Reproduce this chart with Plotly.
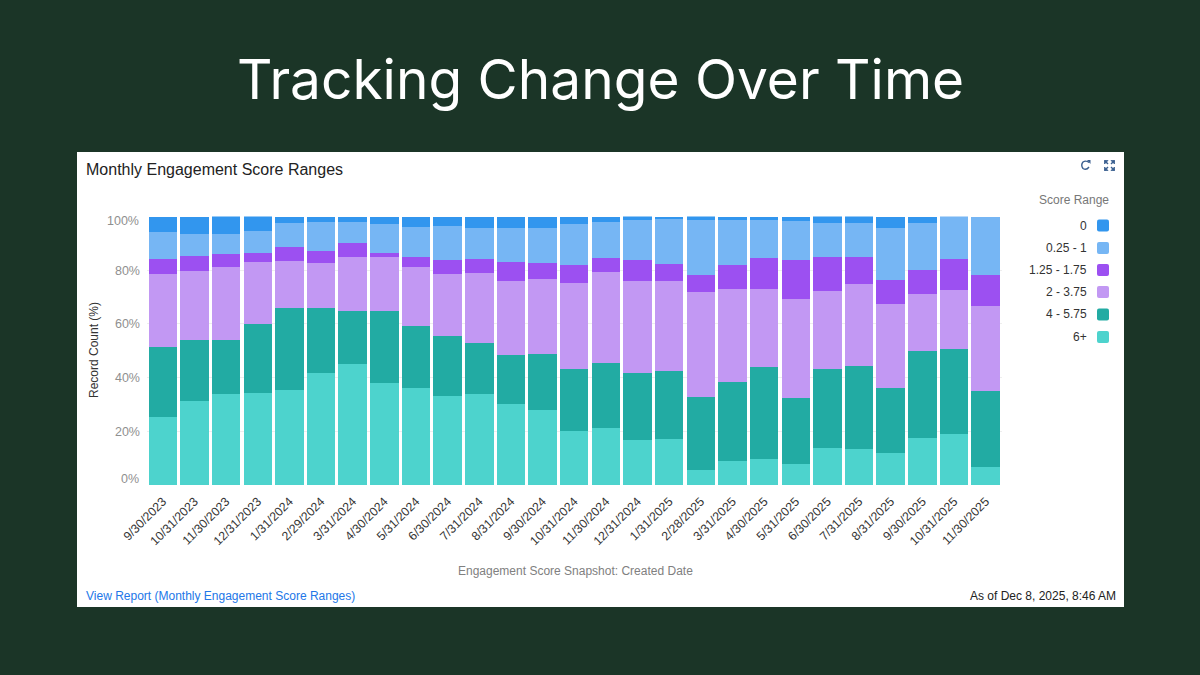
import plotly.graph_objects as go

W, H = 1200, 675

dates = ["9/30/2023", "10/31/2023", "11/30/2023", "12/31/2023", "1/31/2024", "2/29/2024", "3/31/2024",
         "4/30/2024", "5/31/2024", "6/30/2024", "7/31/2024", "8/31/2024", "9/30/2024", "10/31/2024",
         "11/30/2024", "12/31/2024", "1/31/2025", "2/28/2025", "3/31/2025", "4/30/2025", "5/31/2025",
         "6/30/2025", "7/31/2025", "8/31/2025", "9/30/2025", "10/31/2025", "11/30/2025"]

score_6_plus = [25.5, 31.3, 33.8, 34.4, 35.5, 41.7, 45.0, 38.0, 36.1, 33.3, 34.0, 30.2, 28.0, 20.1,
                21.2, 16.9, 17.1, 5.6, 8.9, 9.8, 7.7, 13.7, 13.4, 11.8, 17.5, 19.1, 6.6]
score_4_575 = [26.0, 22.6, 20.1, 25.5, 30.3, 24.1, 19.9, 26.8, 23.1, 22.1, 18.8, 18.3, 20.7, 23.1,
               24.3, 25.0, 25.5, 27.0, 29.4, 34.3, 24.7, 29.6, 30.9, 24.2, 32.4, 31.7, 28.4]
score_2_375 = [27.1, 25.8, 27.2, 23.1, 17.6, 16.9, 20.2, 20.2, 22.1, 23.2, 26.3, 27.3, 28.2, 32.2,
               33.9, 33.9, 33.4, 39.1, 34.7, 28.9, 37.0, 28.8, 30.6, 31.3, 21.1, 21.9, 31.7]
score_125_175 = [5.7, 5.6, 5.0, 3.5, 5.1, 4.5, 5.1, 1.5, 3.6, 5.1, 5.0, 7.2, 5.8, 6.7,
                 5.1, 8.1, 6.3, 6.5, 8.9, 11.4, 14.3, 12.8, 10.1, 9.2, 8.9, 11.6, 11.4]
score_025_1 = [9.9, 8.2, 7.5, 8.0, 9.2, 10.6, 7.8, 10.7, 11.3, 12.7, 11.7, 12.8, 12.9, 15.2,
               13.4, 14.8, 17.1, 20.4, 17.3, 14.2, 14.8, 12.8, 12.7, 19.4, 17.5, 15.8, 21.9]
score_0 = [5.8, 6.5, 6.5, 5.6, 2.2, 2.2, 2.0, 2.7, 3.7, 3.6, 4.2, 4.2, 4.3, 2.7,
           2.0, 1.4, 0.5, 1.5, 0.7, 1.4, 1.5, 2.4, 2.4, 4.1, 2.5, 0.0, 0.0]

range_names = ["0", "0.25 - 1", "1.25 - 1.75", "2 - 3.75", "4 - 5.75", "6+"]
range_values = [score_0, score_025_1, score_125_175, score_2_375, score_4_575, score_6_plus]
range_colors = ["#3296EE", "#76B6F4", "#9C50F1", "#C298F3", "#22ABA3", "#4DD3CD"]

BG = "#1B3527"
SANS = "Liberation Sans, Arial, sans-serif"


def fx(px):
    return px / W


def fy(py):
    return 1 - py / H


fig = go.Figure()

# Stacked from the top score range downward, so "6+" sits on the axis.
for name, values, color in reversed(list(zip(range_names, range_values, range_colors))):
    fig.add_bar(x=dates, y=values, name=name, marker=dict(color=color, line=dict(width=0)), showlegend=False)

shapes = [dict(type="rect", xref="paper", yref="paper", layer="below",
               x0=fx(77), x1=fx(1124), y0=fy(607), y1=fy(152), fillcolor="white", line=dict(width=0))]
annotations = []

# Annotations carry about 2px of built-in padding; the shift cancels it at the anchored edge.
PAD_SHIFT = {"left": -2, "right": 2, "center": 0}


def text(px, py, s, size, color, anchor="left", **kw):
    family = kw.pop("family", SANS)
    annotations.append(dict(xref="paper", yref="paper", x=fx(px), y=fy(py), text=s, showarrow=False,
                            xanchor=anchor, yanchor="middle", xshift=PAD_SHIFT[anchor],
                            font=dict(size=size, color=color, family=family), **kw))


text(600, 79, "Tracking Change Over Time", 55, "white", "center", family="Inter, sans-serif")
text(86, 169, "Monthly Engagement Score Ranges", 16, "#222222")
text(86, 595.5, "View Report (Monthly Engagement Score Ranges)", 12, "#2277E8")
text(1116, 596, "As of Dec 8, 2025, 8:46 AM", 12, "#222222", "right")
text(1109, 200.5, "Score Range", 12, "#777777", "right")
text(94, 350, "Record Count (%)", 12, "#333333", "center", textangle=-90)
text(575, 571, "Engagement Score Snapshot: Created Date", 12, "#808080", "center")

# The two end labels of the value axis sit just inside the plot edges.
text(139, 221, "100%", 12.5, "#8F8F8F", "right")
text(139, 479, "0%", 12.5, "#8F8F8F", "right")

# Hand-built legend: labels on the left, rounded swatches on the right.
legend_rows = [225.5, 248, 270, 292, 314.5, 337]
for row, name, color in zip(legend_rows, range_names, range_colors):
    text(1087, row, name, 12, "#333333", "right")
    x0, x1, y0, y1 = fx(1097), fx(1109), fy(row + 6), fy(row - 6)
    rx, ry = fx(2), 2 / H
    path = (f"M{x0 + rx},{y0} L{x1 - rx},{y0} Q{x1},{y0} {x1},{y0 + ry} L{x1},{y1 - ry} Q{x1},{y1} {x1 - rx},{y1} "
            f"L{x0 + rx},{y1} Q{x0},{y1} {x0},{y1 - ry} L{x0},{y0 + ry} Q{x0},{y0} {x0 + rx},{y0} Z")
    shapes.append(dict(type="path", xref="paper", yref="paper", path=path, fillcolor=color, line=dict(width=0)))

# Refresh and expand icons in the card header.
ICON = "#3A5F8F"
shapes.append(dict(type="path", xref="paper", yref="paper",
                   path=f"M{fx(1089)},{fy(162.5)} Q{fx(1086)},{fy(160)} {fx(1083)},{fy(162)} "
                        f"Q{fx(1080.5)},{fy(165)} {fx(1083)},{fy(168.5)} Q{fx(1086.5)},{fy(170.5)} {fx(1089)},{fy(167)}",
                   line=dict(color=ICON, width=1.4)))
shapes.append(dict(type="path", xref="paper", yref="paper",
                   path=f"M{fx(1087)},{fy(160)} L{fx(1090.5)},{fy(160)} L{fx(1090.5)},{fy(164)} Z",
                   fillcolor=ICON, line=dict(width=0)))
for cx, cy, dx, dy in [(1104.5, 160.5, 1, 1), (1114.5, 160.5, -1, 1), (1104.5, 170.5, 1, -1), (1114.5, 170.5, -1, -1)]:
    shapes.append(dict(type="path", xref="paper", yref="paper",
                       path=f"M{fx(cx)},{fy(cy)} L{fx(cx + 3.5 * dx)},{fy(cy)} L{fx(cx)},{fy(cy + 3.5 * dy)} Z",
                       fillcolor=ICON, line=dict(color=ICON, width=0.8)))
    shapes.append(dict(type="line", xref="paper", yref="paper", x0=fx(cx), y0=fy(cy),
                       x1=fx(cx + 3.5 * dx), y1=fy(cy + 3.5 * dy), line=dict(color=ICON, width=1.4)))

fig.update_layout(
    width=W, height=H, margin=dict(l=0, r=0, t=0, b=0), autosize=False,
    paper_bgcolor=BG, plot_bgcolor="white", barmode="stack", bargap=0.1,
    font=dict(family=SANS), shapes=shapes, annotations=annotations,
    xaxis=dict(domain=[fx(147), fx(1001.5)], type="category", tickangle=-45, ticks="", showgrid=False,
               tickfont=dict(size=12.3, color="#333333"), zeroline=False, showline=False, fixedrange=True,
               automargin=False, ticklabelstandoff=6),
    yaxis=dict(domain=[fy(485), fy(216.5)], range=[0, 100], tickvals=[0, 20, 40, 60, 80, 100],
               ticktext=["", "20%", "40%", "60%", "80%", ""], tickfont=dict(size=12.5, color="#8F8F8F"),
               gridcolor="#EEEEEE", zeroline=False, showline=False, ticks="", fixedrange=True,
               automargin=False, ticklabelstandoff=6),
)

fig.write_html("out.html", config=dict(displayModeBar=False))
